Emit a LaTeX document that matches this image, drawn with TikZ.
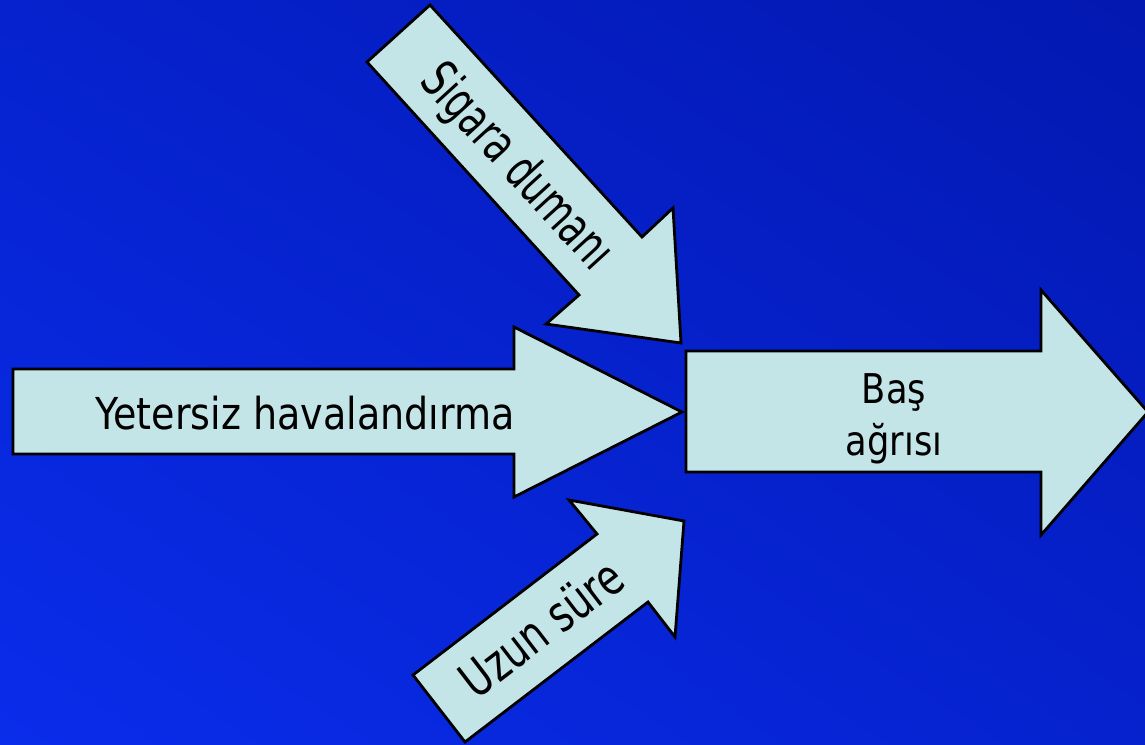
\documentclass[tikz,border=0pt]{standalone}
\usepackage{fontspec}
\usetikzlibrary{shadings}
\setmainfont{DejaVu Sans}
\definecolor{bgbright}{RGB}{10,45,235}
\definecolor{bgmid}{RGB}{6,34,206}
\definecolor{bgdark}{RGB}{3,24,176}
\definecolor{arrowfill}{RGB}{196,229,231}
\tikzset{
  bigarrow/.style={draw=black, line width=2.8pt, line join=miter, fill=arrowfill},
  lbl/.style={inner sep=0pt, text=black, align=center},
}
\begin{document}
\begin{tikzpicture}[x=1pt,y=-1pt]
\useasboundingbox (0,0) rectangle (1145,744);
\shade[lower left=bgbright, upper right=bgdark, upper left=bgmid, lower right=bgmid] (0,0) rectangle (1145,744);

% Yetersiz havalandirma
\draw[bigarrow] (13,369) -- (514,369) -- (514,327) -- (682,412) -- (514,497) -- (514,454) -- (13,454) -- cycle;
\node[lbl, anchor=base] (yet) at (305,429) {\fontsize{44}{52}\selectfont\scalebox{0.865}[1]{Yetersiz havalandırma}};

% Bas agrisi
\draw[bigarrow] (686,351) -- (1041,351) -- (1041,290) -- (1148,412) -- (1041,535) -- (1041,472) -- (686,472) -- cycle;
\node[lbl, anchor=base] (bas) at (894,403) {\fontsize{41}{52}\selectfont\scalebox{0.86}[1]{Baş}};
\node[lbl, anchor=base] (agr) at (894,455) {\fontsize{41}{52}\selectfont\scalebox{0.86}[1]{ağrısı}};

% Sigara dumani
\draw[bigarrow] (430,5) -- (642,237) -- (673,208) -- (681,343) -- (546,324) -- (579,295) -- (367,62) -- cycle;
\node[lbl, rotate=-47.6] (sig) at (516,168) {\fontsize{52}{56}\selectfont\scalebox{0.68}[1]{Sigara dumanı}};

% Uzun sure
\draw[bigarrow] (413,675) -- (597,534) -- (569,500) -- (684,521) -- (675,637) -- (648,602) -- (465,742) -- cycle;
\node[lbl, rotate=37.5] (uzun) at (541,628) {\fontsize{50}{56}\selectfont\scalebox{0.76}[1]{Uzun süre}};
\end{tikzpicture}
\end{document}
